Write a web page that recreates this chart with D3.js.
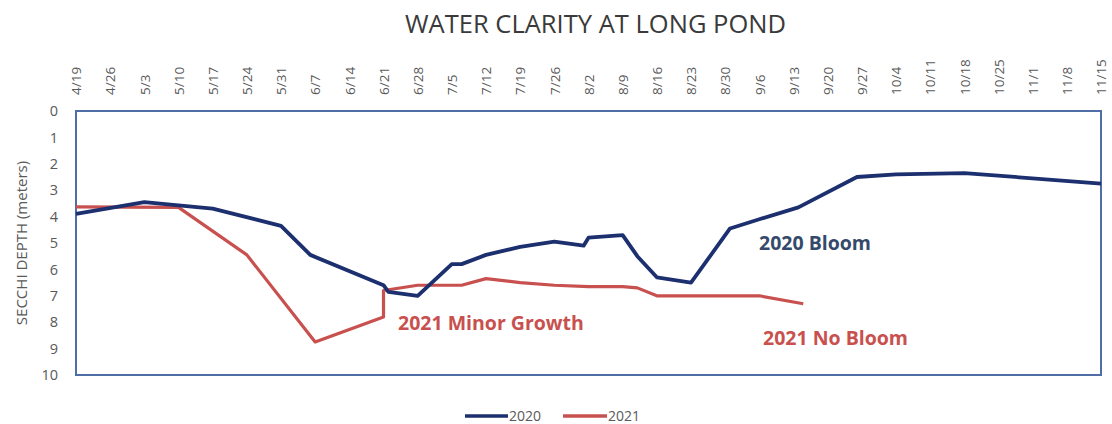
<!DOCTYPE html>
<html>
<head>
<meta charset="utf-8">
<script src="https://cdn.jsdelivr.net/npm/d3@7"></script>
<style>
  html, body { margin: 0; padding: 0; background: #ffffff; }
  svg { display: block; }
  text { font-family: "Open Sans", "Noto Sans", sans-serif; }
</style>
</head>
<body>
<svg id="chart" width="1112" height="424"></svg>
<script>
// Weekly tick labels along the top axis (month/day)
const tickLabels = ["4/19","4/26","5/3","5/10","5/17","5/24","5/31","6/7","6/14","6/21","6/28",
  "7/5","7/12","7/19","7/26","8/2","8/9","8/16","8/23","8/30","9/6","9/13","9/20","9/27",
  "10/4","10/11","10/18","10/25","11/1","11/8","11/15"];

// Secchi depth readings (meters), by month/day
const dates2020 = ["4/19","5/3","5/17","5/31","6/6","6/21","6/22","6/28","7/5","7/7","7/12","7/19",
  "7/26","8/1","8/2","8/9","8/12","8/16","8/23","8/31","9/6","9/14","9/26","10/4","10/18","11/15"];
const depth2020 = [3.9, 3.45, 3.7, 4.35, 5.45, 6.6, 6.85, 7.0, 5.8, 5.8, 5.45, 5.15,
  4.95, 5.1, 4.8, 4.7, 5.5, 6.3, 6.5, 4.45, 4.1, 3.65, 2.5, 2.4, 2.35, 2.75];

const dates2021 = ["4/19","5/10","5/24","6/7","6/21","6/21","6/28","7/7","7/12","7/19","7/26",
  "8/2","8/9","8/12","8/16","9/6","9/15"];
const depth2021 = [3.63, 3.65, 5.45, 8.75, 7.8, 6.8, 6.6, 6.6, 6.35, 6.5, 6.6,
  6.65, 6.65, 6.7, 7.0, 7.0, 7.3];

const yTicks = [0,1,2,3,4,5,6,7,8,9,10];

const seriesNames = ["2020", "2021"];
const seriesColors = ["#1c2f6e", "#c8504e"];

// Both seasons share one month/day axis, so dates are placed on a common year
const toDate = md => { const [m, d] = md.split("/").map(Number); return new Date(2001, m - 1, d); };

const svg = d3.select("#chart");
const margin = { left: 76, right: 1101, top: 111, bottom: 375 };

const x = d3.scaleTime()
  .domain([toDate(tickLabels[0]), toDate(tickLabels[tickLabels.length - 1])])
  .range([margin.left, margin.right]);
const y = d3.scaleLinear().domain([0, 10]).range([margin.top, margin.bottom]);

// Title
svg.append("text")
  .attr("x", 405).attr("y", 33)
  .attr("textLength", 381)
  .attr("lengthAdjust", "spacingAndGlyphs")
  .attr("fill", "#3a3a3a")
  .style("font-size", "25px")
  .text("WATER CLARITY AT LONG POND");

// Top date axis with rotated labels
const xAxis = d3.axisTop(x)
  .tickValues(tickLabels.map(toDate))
  .tickFormat((d, i) => tickLabels[i])
  .tickSize(0);
const gx = svg.append("g").attr("transform", `translate(0,${margin.top - 2})`).call(xAxis);
gx.select(".domain").remove();
gx.selectAll("text")
  .attr("fill", "#595959")
  .style("font-size", "13.5px")
  .attr("transform", "rotate(-90)")
  .attr("text-anchor", "start")
  .attr("x", 14)
  .attr("y", 0)
  .attr("dy", "0.35em");

// Left depth axis
const yAxis = d3.axisLeft(y).tickValues(yTicks).tickSize(0).tickPadding(18);
const gy = svg.append("g").attr("transform", `translate(${margin.left},0)`).call(yAxis);
gy.select(".domain").remove();
gy.selectAll("text").attr("fill", "#595959").style("font-size", "14.5px");

// Axis title
svg.append("text")
  .attr("transform", `translate(27,243) rotate(-90)`)
  .attr("text-anchor", "middle")
  .attr("fill", "#595959")
  .style("font-size", "15px")
  .text("SECCHI DEPTH (meters)");

// Plot frame
svg.append("rect")
  .attr("x", margin.left).attr("y", margin.top)
  .attr("width", margin.right - margin.left)
  .attr("height", margin.bottom - margin.top)
  .attr("fill", "none")
  .attr("stroke", "#4f6ea6")
  .attr("stroke-width", 2);

const line = d3.line()
  .x(d => x(toDate(d[0])))
  .y(d => y(d[1]));

const data2020 = dates2020.map((d, i) => [d, depth2020[i]]);
const data2021 = dates2021.map((d, i) => [d, depth2021[i]]);

svg.append("path").datum(data2021)
  .attr("d", line).attr("fill", "none")
  .attr("stroke", seriesColors[1]).attr("stroke-width", 3.2)
  .attr("stroke-linejoin", "round");

svg.append("path").datum(data2020)
  .attr("d", line).attr("fill", "none")
  .attr("stroke", seriesColors[0]).attr("stroke-width", 3.8)
  .attr("stroke-linejoin", "round");

// Annotations
const notes = [
  { text: "2021 Minor Growth", x: 398, y: 330, color: "#c8504e" },
  { text: "2020 Bloom", x: 759, y: 250, color: "#34496b" },
  { text: "2021 No Bloom", x: 763, y: 345, color: "#c8504e" }
];
svg.selectAll("text.note").data(notes).join("text")
  .attr("class", "note")
  .attr("x", d => d.x).attr("y", d => d.y)
  .attr("fill", d => d.color)
  .style("font-size", "19.5px")
  .style("font-weight", "bold")
  .text(d => d.text);

// Legend
const legend = svg.append("g");
const legendItems = [{ x1: 465, x2: 508 }, { x1: 563, x2: 607 }];
legendItems.forEach((it, i) => {
  legend.append("line")
    .attr("x1", it.x1).attr("x2", it.x2).attr("y1", 416).attr("y2", 416)
    .attr("stroke", seriesColors[i]).attr("stroke-width", 3.4);
  legend.append("text")
    .attr("x", it.x2 + 1).attr("y", 421)
    .attr("fill", "#595959")
    .style("font-size", "14px")
    .text(seriesNames[i]);
});
</script>
</body>
</html>
